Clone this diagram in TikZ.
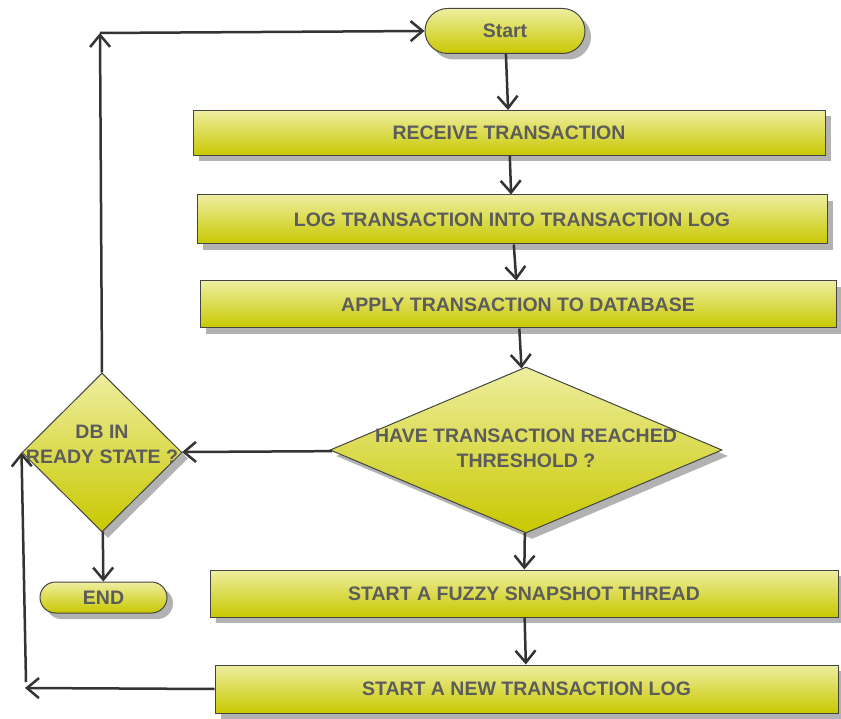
\documentclass[tikz,border=0pt]{standalone}
\usepackage{fontspec}
\setmainfont{Liberation Sans}
\usetikzlibrary{shapes.geometric,shapes.misc,shadows,arrows.meta}
\definecolor{txt}{HTML}{5C5C5C}
\definecolor{ytop}{HTML}{EEEEA0}
\definecolor{ybot}{HTML}{C8C800}
\definecolor{edgec}{HTML}{444444}
\definecolor{lne}{HTML}{333333}
\begin{document}
\begin{tikzpicture}[x=1pt,y=-1pt,
 base/.style={draw=edgec, line width=1pt, top color=ytop, bottom color=ybot,
   drop shadow={shadow xshift=6pt, shadow yshift=-6pt, fill=black!30, opacity=1},
   font=\fontsize{19.5}{23}\selectfont\bfseries, text=txt, inner sep=0pt},
 procbox/.style={base, rectangle},
 term/.style={base, rounded rectangle},
 decide/.style={base, diamond},
 dlabel/.style={align=center, font=\fontsize{19.5}{25}\selectfont\bfseries, text=txt, inner sep=0pt},
 flow/.style={draw=lne, line width=2.5pt, -{Straight Barb[length=12pt,width=20pt,line width=2.5pt]}}
]
\useasboundingbox (0,0) rectangle (841,719);
\node[term, minimum width=160pt, minimum height=45pt] (start) at (505,31) {Start};
\node[procbox, minimum width=632pt, minimum height=45pt] (b1) at (509,133) {RECEIVE TRANSACTION};
\node[procbox, minimum width=630pt, minimum height=49pt] (b2) at (512,219.5) {LOG TRANSACTION INTO TRANSACTION LOG};
\node[procbox, minimum width=636pt, minimum height=47pt] (b3) at (518,304.5) {APPLY TRANSACTION TO DATABASE};
\node[decide, minimum width=392pt, minimum height=166pt,
  label={[dlabel, yshift=2pt]center:HAVE TRANSACTION REACHED\\THRESHOLD ?}] (d2) at (526,450) {};
\node[procbox, minimum width=628pt, minimum height=47pt] (b4) at (524,593.5) {START A FUZZY SNAPSHOT THREAD};
\node[procbox, minimum width=623pt, minimum height=48pt] (b5) at (526.5,689) {START A NEW TRANSACTION LOG};
\node[decide, minimum width=160pt, minimum height=159pt,
  label={[dlabel, yshift=8pt]center:DB IN\\READY STATE ?}] (d1) at (102,452.5) {};
\node[term, minimum width=127pt, minimum height=31pt] (end) at (103.5,597.5) {END};
\coordinate (ctop) at (100,33);
\coordinate (cbl) at (25,688);
\coordinate (cbv) at (26,682);
\draw[flow] (start) -- (b1);
\draw[flow] (b1) -- (b2);
\draw[flow] (b2) -- (b3);
\draw[flow] (b3) -- (d2);
\draw[flow] (d2) -- (b4);
\draw[flow] (b4) -- (b5);
\draw[flow] (d2) -- (d1);
\draw[flow] (d1) -- (end);
\draw[flow] (d1.north) -- (ctop);
\draw[flow] (ctop) -- (start.west);
\draw[flow] (b5.west) -- (cbl);
\draw[flow] (cbv) -- (d1.west);
\end{tikzpicture}
\end{document}
